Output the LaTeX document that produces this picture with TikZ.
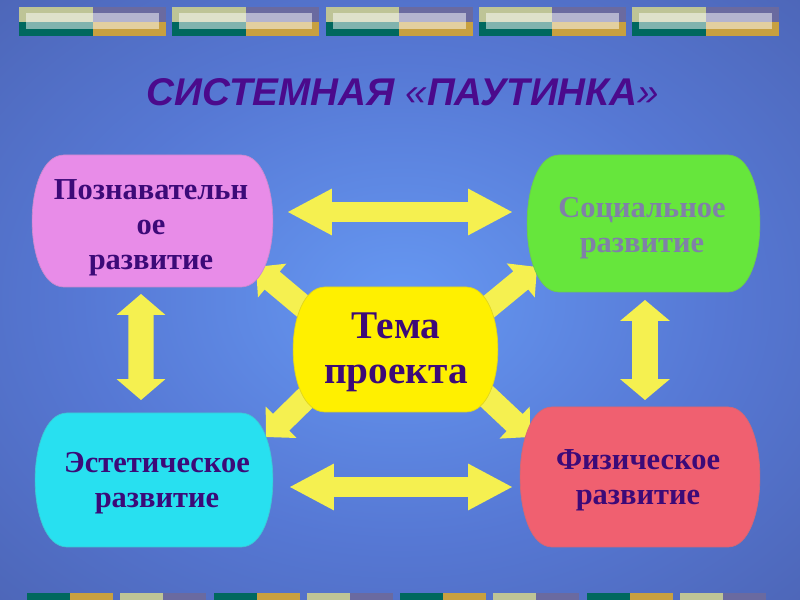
\documentclass[tikz,border=0pt]{standalone}
\usepackage{fontspec}
\setmainfont{Liberation Serif}
\newfontfamily\titlefont{Liberation Sans}
\usetikzlibrary{calc}
\definecolor{bgA}{RGB}{102,152,242}
\definecolor{bgB}{RGB}{86,120,212}
\definecolor{bgC}{RGB}{72,92,168}
\definecolor{bgD}{RGB}{58,60,112}
\pgfdeclareradialshading{bgshade}{\pgfpoint{0bp}{0bp}}{color(0bp)=(bgA); color(20bp)=(bgB); color(45bp)=(bgC); color(72bp)=(bgD)}
\definecolor{stOlive}{RGB}{190,196,150}
\definecolor{stTeal}{RGB}{0,104,94}
\definecolor{stPurple}{RGB}{106,106,160}
\definecolor{stGold}{RGB}{200,160,64}
\definecolor{titlecol}{RGB}{75,10,140}
\definecolor{txtcol}{RGB}{60,10,120}
\definecolor{graytxt}{RGB}{128,128,168}
\definecolor{pinkfill}{RGB}{232,140,232}
\definecolor{greenfill}{RGB}{102,230,60}
\definecolor{cyanfill}{RGB}{40,224,240}
\definecolor{redfill}{RGB}{240,96,112}
\definecolor{yellowfill}{RGB}{255,240,0}
\definecolor{arrowyellow}{RGB}{245,240,80}
\newcommand\fatdouble[6]{%
 \coordinate (#1-a) at ($(#2)!#6!(#3)$);
 \coordinate (#1-b) at ($(#3)!#6!(#2)$);
 \fill[fatarrow] (#2) -- ($(#1-a)!#5!90:(#3)$) -- ($(#1-a)!#4!90:(#3)$) -- ($(#1-b)!#4!90:(#3)$) -- ($(#1-b)!#5!90:(#3)$) -- (#3) -- ($(#1-b)!#5!-90:(#3)$) -- ($(#1-b)!#4!-90:(#3)$) -- ($(#1-a)!#4!-90:(#3)$) -- ($(#1-a)!#5!-90:(#3)$) -- cycle;
}
\newcommand\fatsingle[6]{%
 \coordinate (#1-h) at ($(#3)!#6!(#2)$);
 \fill[fatarrow] ($(#2)!#4!90:(#3)$) -- ($(#1-h)!#4!90:(#3)$) -- ($(#1-h)!#5!90:(#3)$) -- (#3) -- ($(#1-h)!#5!-90:(#3)$) -- ($(#1-h)!#4!-90:(#3)$) -- ($(#2)!#4!-90:(#3)$) -- cycle;
}
\newcommand\blobshape[5]{%
 \filldraw[blob, fill=#5, draw=#5!75!gray] (#1+32,#2) -- (#3-32,#2) .. controls (#3+10.5,#2+0.5) and (#3+10.5,#4-0.5) .. (#3-32,#4) -- (#1+32,#4) .. controls (#1-10.5,#4-0.5) and (#1-10.5,#2+0.5) .. (#1+32,#2) -- cycle;
}
\begin{document}
\begin{tikzpicture}[x=0.03cm,y=-0.03cm,
  fatarrow/.style={fill=arrowyellow},
  blob/.style={line width=0.6pt},
  lbl/.style={align=center, inner sep=0pt, text=txtcol, font=\bfseries\fontsize{26pt}{30pt}\selectfont},
  biglbl/.style={align=center, inner sep=0pt, text=txtcol, font=\bfseries\fontsize{33.5pt}{38.4pt}\selectfont},
  titlestyle/.style={inner sep=0pt, text=titlecol, font=\titlefont\bfseries\itshape\fontsize{33pt}{36pt}\selectfont}]
\useasboundingbox (0,0) rectangle (800,600);
\shade[shading=bgshade] (0,0) rectangle (800,600);
% top stripes
\foreach \i in {0,...,4}{
  \pgfmathsetmacro\xx{19+153.25*\i}
  \fill[stOlive] (\xx,7) rectangle (\xx+73.5,22);
  \fill[stTeal] (\xx,22) rectangle (\xx+73.5,36);
  \fill[stPurple] (\xx+73.5,7) rectangle (\xx+147,22);
  \fill[stGold] (\xx+73.5,22) rectangle (\xx+147,36);
  \fill[white,opacity=0.5] (\xx+7,13) rectangle (\xx+140,29);
}
% bottom stripes
\foreach \j in {0,...,3}{
  \pgfmathsetmacro\xx{27+186.7*\j}
  \fill[stTeal] (\xx,593) rectangle (\xx+43,600);
  \fill[stGold] (\xx+43,593) rectangle (\xx+86,600);
  \fill[stOlive] (\xx+93,593) rectangle (\xx+136,600);
  \fill[stPurple] (\xx+136,593) rectangle (\xx+179,600);
}
% title
\node[titlestyle, anchor=base] (title) at (403,106) {СИСТЕМНАЯ {\mdseries«}ПАУТИНКА{\mdseries»}};
% arrow end points
\coordinate (h1a) at (288,212); \coordinate (h1b) at (512,212);
\coordinate (h2a) at (290,487); \coordinate (h2b) at (512,487);
\coordinate (v1a) at (141,294); \coordinate (v1b) at (141,400);
\coordinate (v2a) at (645,300); \coordinate (v2b) at (645,400);
\coordinate (ulT) at (312,314); \coordinate (ulH) at (256,267);
\coordinate (urT) at (480,314); \coordinate (urH) at (537,267);
\coordinate (llT) at (314,390); \coordinate (llH) at (266,437);
\coordinate (lrT) at (480,390); \coordinate (lrH) at (530,437);
\fatdouble{h1}{h1a}{h1b}{8.5pt}{20pt}{37.5pt}
\fatdouble{h2}{h2a}{h2b}{8.5pt}{20pt}{37.5pt}
\fatdouble{v1}{v1a}{v1b}{10.7pt}{20.9pt}{17.9pt}
\fatdouble{v2}{v2a}{v2b}{11pt}{21.3pt}{17.9pt}
\fatsingle{ul}{ulT}{ulH}{10pt}{18.8pt}{18pt}
\fatsingle{ur}{urT}{urH}{10pt}{18.8pt}{18pt}
\fatsingle{ll}{llT}{llH}{10pt}{18.8pt}{18pt}
\fatsingle{lr}{lrT}{lrH}{10pt}{18.8pt}{18pt}
% boxes
\blobshape{32}{155}{273}{287}{pinkfill}
\blobshape{527}{155}{760}{292}{greenfill}
\blobshape{35}{413}{273}{547}{cyanfill}
\blobshape{520}{407}{760}{547}{redfill}
\blobshape{293}{287}{498}{412}{yellowfill}
% texts
\node[lbl] (P) at (151,228) {Познавательн\\ое\\развитие};
\node[lbl, text=graytxt] (S) at (642,228.5) {Социальное\\развитие};
\node[lbl] (E) at (157,483.5) {Эстетическое\\развитие};
\node[lbl] (F) at (638,480) {Физическое\\развитие};
\node[biglbl] (T) at (396,352.5) {Тема\\проекта};
\end{tikzpicture}
\end{document}
